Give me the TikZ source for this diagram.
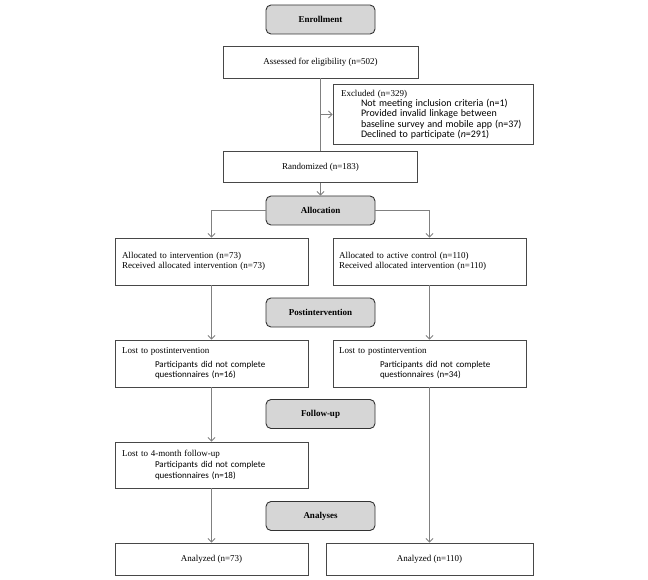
\documentclass[tikz,border=0pt]{standalone}
\usepackage{fontspec}
\setmainfont{Liberation Serif}
\newfontfamily\calfont{Carlito}
\usetikzlibrary{arrows.meta}
\newcommand{\subline}[3][9]{\hspace*{#2}{\calfont\fontsize{#1}{10.3}\selectfont #3}}

\begin{document}
\begin{tikzpicture}[x=1pt,y=-1pt,
  box/.style={draw=black!72,line width=.9pt,inner sep=0pt,font=\fontsize{9}{10.3}\selectfont},
  lbox/.style={box,align=left,inner xsep=7pt,text width=179pt},
  hdr/.style={draw=black!80,fill=black!16,line width=.9pt,rounded corners=5pt,
    minimum width=109pt,minimum height=29pt,font=\bfseries\fontsize{9}{10}\selectfont},
  flow/.style={draw=black!50,line width=.8pt},
  tip/.style={-{Straight Barb[length=3.5pt,width=7pt]}}]
  \useasboundingbox (0,0) rectangle (648,580);
  \foreach\nm/\txt/\y in {enrol/Enrollment/19.5,alloc/Allocation/210.5,post/Postintervention/312.5,fup/Follow-up/414,anl/Analyses/516}
     \node[hdr](\nm) at (320.5,\y) {\txt};
  \node[box,minimum width=195pt,minimum height=32pt](assess) at (320.5,62) {Assessed for eligibility (n=502)};
  \node[lbox,inner xsep=8pt,text width=184pt,minimum height=60pt](excl) at (433,114.5) {Excluded (n=329)\\
     \subline[10]{20pt}{Not meeting inclusion criteria (n=1)}\\
     \subline[10]{20pt}{Provided invalid linkage between}\\
     \subline[10]{20pt}{baseline survey and mobile app (n=37)}\\
     \subline[10]{20pt}{Declined to participate (\textit{n}=291)}};
  \node[box,minimum width=194pt,minimum height=31pt](rand) at (320.5,167) {Randomized (n=183)};
  \node[lbox,minimum height=47pt](allocI) at (211.5,261.5) {Allocated to intervention (n=73)\\Received allocated intervention (n=73)};
  \node[lbox,inner xsep=6pt,text width=181pt,minimum height=47pt](allocC) at (429.5,261.5) {Allocated to active control (n=110)\\Received allocated intervention (n=110)};
  \node[lbox,minimum height=47pt](lostI) at (211.5,363.5) {Lost to postintervention\\[3pt]
     \subline{33pt}{Participants did not complete}\\
     \subline{33pt}{questionnaires (n=16)}};
  \node[lbox,inner xsep=6pt,text width=181pt,minimum height=47pt](lostC) at (429.5,363.5) {Lost to postintervention\\[3pt]
     \subline{41pt}{Participants did not complete}\\
     \subline{41pt}{questionnaires (n=34)}};
  \node[lbox,minimum height=46pt](lostF) at (211.5,465) {Lost to 4-month follow-up\\[1pt]
     \subline{33pt}{Participants did not complete}\\
     \subline{33pt}{questionnaires (n=18)}};
  \node[box,minimum width=193pt,minimum height=32pt](anaI) at (211.5,559) {Analyzed (n=73)};
  \node[box,minimum width=207pt,minimum height=32pt](anaC) at (429.5,559) {Analyzed (n=110)};
  \draw[flow](assess.south)--(assess.south|-rand.north);
  \draw[flow,tip](assess.south|-excl.west)--(excl.west);
  \draw[flow,tip](rand.south)--(alloc.north);
  \draw[flow,tip](alloc.west)-|(allocI.north);
  \draw[flow,tip](alloc.east)-|(allocC.north);
  \draw[flow,tip](allocI)--(lostI);
  \draw[flow,tip](allocC)--(lostC);
  \draw[flow,tip](lostI)--(lostF);
  \draw[flow,tip](lostF)--(anaI);
  \draw[flow,tip](lostC)--(anaC);
\end{tikzpicture}
\end{document}
